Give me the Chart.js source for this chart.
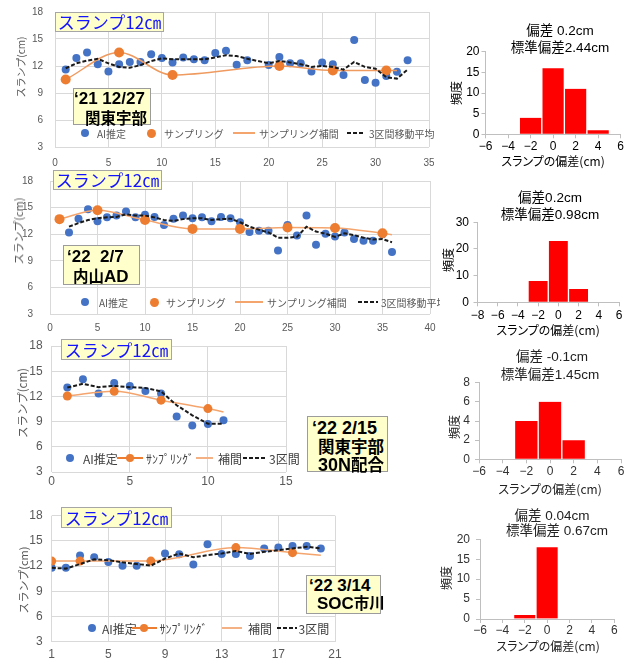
<!DOCTYPE html>
<html lang="ja">
<head>
<meta charset="utf-8">
<script src="https://cdn.jsdelivr.net/npm/chart.js@4.4.1/dist/chart.umd.min.js"></script>
<style>
  body { margin:0; width:633px; height:664px; background:#fff; position:relative; overflow:hidden;
         font-family:"Liberation Sans","Noto Sans CJK JP",sans-serif; }
  .panel { position:absolute; overflow:hidden; }
  .panel canvas, .hp canvas { position:absolute; left:0; top:0; }
  .hp { position:absolute; }
  .ctr { position:absolute; white-space:nowrap; transform:translate(-50%,-50%); }
  .rot { position:absolute; white-space:nowrap; transform:translate(-50%,-50%) rotate(-90deg); }
  .tag { position:absolute; box-sizing:border-box; width:109px; height:20px; background:#ffffcc;
         border:1px solid #a6a6a6; color:#1414ff; font-family:"Noto Sans CJK JP"; font-size:17px;
         line-height:18px; text-align:center; }
  .date { position:absolute; box-sizing:border-box; background:#ffffcc; border:1px solid #9c9c9c;
          font-weight:bold; color:#000; font-size:17px; }
  .date div { position:absolute; white-space:nowrap; transform:translateY(-50%); }
  .date .cj { font-family:"Noto Sans CJK JP"; font-size:15.5px; }
  .lg { position:absolute; white-space:nowrap; transform:translateY(-50%); color:#595959;
        font-family:"Noto Sans CJK JP"; }
  .dot { position:absolute; border-radius:50%; }
  .ln { position:absolute; height:2px; }
  .dash { position:absolute; height:2px;
          background:repeating-linear-gradient(90deg,#1a1a1a 0 4px,transparent 4px 6px); }
  .ytl { color:#595959; font-family:"Noto Sans CJK JP"; }
  .ht { font-size:13.5px; color:#000; }
  .hx { font-size:12px; color:#000; font-family:"Noto Sans CJK JP"; font-feature-settings:"palt"; }
</style>
</head>
<body>

<!-- 2021/12/27 関東宇部 -->
<div class="panel" style="left:0;top:0;width:434px;height:172px">
  <canvas id="c1"></canvas>
  <div class="rot ytl" style="left:20px;top:67px;font-size:10px">スランプ(cm)</div>
  <div class="tag" style="left:55px;top:12px">スランプ12㎝</div>
  <div class="date" style="left:73px;top:88px;width:78px;height:37px">
    <div style="left:0px;top:10px">‘21 12/27</div>
    <div class="cj" style="left:11px;top:28px">関東宇部</div>
  </div>
  <span class="dot" style="left:81px;top:129px;width:8px;height:8px;background:#4472c4"></span>
  <span class="lg" style="left:97px;top:133px;font-size:10px">AI推定</span>
  <span class="dot" style="left:146.5px;top:128.5px;width:9px;height:9px;background:#ed7d31"></span>
  <span class="lg" style="left:164px;top:133px;font-size:10px">サンプリング</span>
  <span class="ln" style="left:233px;top:132px;width:22px;background:#f4a56e"></span>
  <span class="lg" style="left:259px;top:133px;font-size:10px">サンプリング補間</span>
  <span class="dash" style="left:347px;top:132px;width:17px"></span>
  <span class="lg" style="left:369px;top:133px;font-size:10px">3区間移動平均</span>
</div>

<!-- 2022/2/7 内山AD -->
<div class="panel" style="left:0;top:165px;width:440px;height:170px">
  <canvas id="c2"></canvas>
  <div class="rot ytl" style="left:18px;top:66px;font-size:11px">スランプ(cm)</div>
  <div class="tag" style="left:53px;top:5px">スランプ12㎝</div>
  <div class="date" style="left:63px;top:80px;width:77px;height:40px">
    <div style="left:3px;top:11px">‘22&nbsp;&nbsp;2/7</div>
    <div style="left:9px;top:29px"><span class="cj">内山</span>AD</div>
  </div>
  <span class="dot" style="left:81px;top:133px;width:8px;height:8px;background:#4472c4"></span>
  <span class="lg" style="left:99px;top:137px;font-size:10px">AI推定</span>
  <span class="dot" style="left:149.5px;top:132.5px;width:9px;height:9px;background:#ed7d31"></span>
  <span class="lg" style="left:166px;top:137px;font-size:10px">サンプリング</span>
  <span class="ln" style="left:235px;top:136px;width:28px;background:#f4a56e"></span>
  <span class="lg" style="left:267px;top:137px;font-size:10px">サンプリング補間</span>
  <span class="dash" style="left:358px;top:136px;width:20px"></span>
  <span class="lg" style="left:381px;top:137px;font-size:10px">3区間移動平均</span>
</div>

<!-- 2022/2/15 関東宇部 30N配合 -->
<div class="panel" style="left:0;top:335px;width:400px;height:155px">
  <canvas id="c3"></canvas>
  <div class="rot ytl" style="left:21.7px;top:68px;font-size:11.5px">スランプ(cm)</div>
  <div class="tag" style="left:61px;top:4px;width:111px;height:21px;line-height:19px">スランプ12㎝</div>
  <div class="date" style="left:307px;top:81px;width:81px;height:56px;font-size:18px">
    <div style="left:4px;top:10.7px">‘22 2/15</div>
    <div class="cj" style="left:10px;top:29px;font-size:16.5px">関東宇部</div>
    <div style="left:10px;top:47.3px">30N<span class="cj" style="font-size:16.5px">配合</span></div>
  </div>
  <span class="dot" style="left:66px;top:119px;width:8px;height:8px;background:#4472c4"></span>
  <span class="lg" style="left:83px;top:123px;font-size:12px;color:#404040">AI推定</span>
  <span class="ln" style="left:117px;top:122px;width:26px;background:#ed7d31"></span>
  <span class="dot" style="left:126px;top:119px;width:8px;height:8px;background:#ed7d31"></span>
  <span class="lg" style="left:146px;top:123px;font-size:12px;color:#404040">ｻﾝﾌﾟﾘﾝｸﾞ</span>
  <span class="ln" style="left:196px;top:122px;width:17px;background:#f4b183"></span>
  <span class="lg" style="left:218px;top:123px;font-size:12px;color:#404040">補間</span>
  <span class="dash" style="left:243px;top:122px;width:24px"></span>
  <span class="lg" style="left:269px;top:123px;font-size:12px;color:#404040">3区間</span>
</div>

<!-- 2022/3/14 SOC市川 -->
<div class="panel" style="left:0;top:500px;width:400px;height:164px">
  <canvas id="c4"></canvas>
  <div class="rot ytl" style="left:23.3px;top:80px;font-size:11px">スランプ(cm)</div>
  <div class="tag" style="left:61px;top:7px;width:111px;height:21px;line-height:19px">スランプ12㎝</div>
  <div class="date" style="left:306px;top:75px;width:75px;height:39px;font-size:17px">
    <div style="left:2px;top:10px">‘22 3/14</div>
    <div style="left:10px;top:26px">SOC<span class="cj">市川</span></div>
  </div>
  <span class="dot" style="left:88px;top:124px;width:8px;height:8px;background:#4472c4"></span>
  <span class="lg" style="left:102px;top:128px;font-size:12px;color:#404040">AI推定</span>
  <span class="ln" style="left:132px;top:127px;width:25px;background:#ed7d31"></span>
  <span class="dot" style="left:140px;top:124px;width:8px;height:8px;background:#ed7d31"></span>
  <span class="lg" style="left:159.5px;top:128px;font-size:12px;color:#404040">ｻﾝﾌﾟﾘﾝｸﾞ</span>
  <span class="ln" style="left:222px;top:127px;width:20px;background:#f4b183"></span>
  <span class="lg" style="left:248px;top:128px;font-size:12px;color:#404040">補間</span>
  <span class="dash" style="left:277px;top:127px;width:20px"></span>
  <span class="lg" style="left:298.5px;top:128px;font-size:12px;color:#404040">3区間</span>
</div>

<!-- histograms of the slump deviation -->
<div class="hp" style="left:430px;top:0;width:203px;height:165px"><canvas id="h1"></canvas></div>
<div class="hp" style="left:430px;top:165px;width:203px;height:170px"><canvas id="h2"></canvas></div>
<div class="hp" style="left:430px;top:335px;width:203px;height:165px"><canvas id="h3"></canvas></div>
<div class="hp" style="left:430px;top:500px;width:203px;height:164px"><canvas id="h4"></canvas></div>

<div class="ctr ht" style="left:560px;top:29.3px">偏差 0.2cm</div>
<div class="ctr ht" style="left:560px;top:45.7px">標準偏差2.44cm</div>
<div class="ctr hx" style="left:553px;top:160px">スランプの偏差(cm)</div>
<div class="rot hx" style="left:455px;top:93px">頻度</div>

<div class="ctr ht" style="left:550px;top:195.7px">偏差0.2cm</div>
<div class="ctr ht" style="left:550px;top:213.3px">標準偏差0.98cm</div>
<div class="ctr hx" style="left:548px;top:329.3px">スランプの偏差(cm)</div>
<div class="rot hx" style="left:447px;top:260px">頻度</div>

<div class="ctr ht" style="left:552px;top:355px;color:#222">偏差 -0.1cm</div>
<div class="ctr ht" style="left:550px;top:373.3px;color:#222">標準偏差1.45cm</div>
<div class="ctr hx" style="left:550px;top:487.7px;color:#222">スランプの偏差(cm)</div>
<div class="rot hx" style="left:453px;top:426.7px;color:#222">頻度</div>

<div class="ctr ht" style="left:552px;top:514px;color:#222">偏差 0.04cm</div>
<div class="ctr ht" style="left:557px;top:529.3px;color:#222">標準偏差 0.67cm</div>
<div class="ctr hx" style="left:548px;top:645px;color:#222">スランプの偏差(cm)</div>
<div class="rot hx" style="left:445px;top:578px;color:#222">頻度</div>

<script>
// ---- 2021/12/27 関東宇部 ----
const c1AiX   = [1,2,3,4,5,6,7,8,9,10,11,12,13,14,15,16,17,18,20,21,22,23,24,25,26,27,28,29,30,31,32,33];
const c1Ai    = [11.6,12.9,13.5,12.2,11.4,12.2,12.45,12.45,13.3,12.9,12.4,12.95,12.75,12.65,13.45,13.7,12.15,12.65,12.1,13.0,12.3,12.3,11.4,12.4,12.2,11.0,14.9,10.45,10.15,10.9,11.35,12.65];
const c1SampX = [1,6,11,21,26,31];
const c1Samp  = [10.5,13.5,11.0,12.0,11.5,11.5];
const c1IntX  = [1,6,11,21,26,31,32];
const c1Int   = [10.5,13.5,11.0,12.0,11.5,11.5,11.5];
const c1Ma    = [11.75,12.3,12.6,12.8,12.3,11.9,11.8,12.1,12.55,12.85,12.75,12.75,12.75,12.75,12.95,13.2,13.1,12.8,12.3,12.55,12.4,12.2,11.9,12.0,11.9,11.6,12.45,11.9,11.7,10.75,10.6,11.6];

// ---- 2022/2/7 内山AD ----
const c2AiX   = [1,2,3,4,5,6,7,8,9,10,11,12,13,14,15,16,17,18,19,20,21,22,23,24,25,26,27,28,29,30,31,32,33,34,35,36];
const c2Ai    = [13.7,12.2,13.75,14.8,13.45,13.9,14.1,14.55,13.9,14.2,13.95,13.05,13.75,14.1,13.8,13.9,13.45,13.95,13.8,13.35,12.25,12.4,12.4,10.15,13.05,11.85,14.1,10.8,12.05,11.75,12.2,11.45,11.25,11.25,12.0,10.0];
const c2SampX = [1,5,10,15,20,25,30,35];
const c2Samp  = [13.7,14.7,13.6,12.6,12.6,12.75,12.7,12.1];
const c2IntX  = [1,5,10,15,20,25,30,35,36];
const c2Int   = [13.7,14.7,13.6,12.6,12.6,12.75,12.7,12.1,11.95];
const c2MaX   = [2,3,4,5,6,7,8,9,10,11,12,13,14,15,16,17,18,19,20,21,22,23,24,25,26,27,28,29,30,31,32,33,34,35,36];
const c2Ma    = [12.85,13.25,13.6,13.8,13.9,13.95,14.25,14.1,14.1,13.9,13.6,13.5,13.7,13.8,13.8,13.6,13.7,13.75,13.35,12.85,12.5,12.2,11.6,11.6,11.7,12.85,12.3,12.05,11.7,12.1,11.9,11.6,11.4,11.45,11.1];

// ---- 2022/2/15 関東宇部 30N配合 ----
const c3AiX   = [1,2,3,4,5,6,7,8,9,10,11];
const c3Ai    = [13.05,14.05,12.35,13.6,13.25,12.65,12.35,9.6,8.55,8.7,9.15];
const c3SampX = [1,4,7,10];
const c3Samp  = [12.05,12.6,11.55,10.55];
const c3IntX  = [1,4,7,10,11];
const c3Int   = [12.05,12.6,11.55,10.55,10.15];
const c3Ma    = [13.05,13.5,13.1,13.25,13.1,13.0,12.6,10.95,9.75,8.75,8.75];

// ---- 2022/3/14 SOC市川 ----
const c4AiX   = [1,2,3,4,5,6,7,9,10,11,12,13,14,15,16,17,18,19,20];
const c4Ai    = [11.8,11.8,13.25,13.05,12.5,12.05,12.05,13.5,13.4,12.2,14.6,13.45,13.45,13.2,14.1,14.2,14.4,14.4,14.1];
const c4SampX = [1,3,8,14,18];
const c4Samp  = [12.6,12.6,12.6,14.2,13.6];
const c4IntX  = [1,3,8,14,18,20];
const c4Int   = [12.6,12.6,12.6,14.2,13.6,13.3];
const c4MaX   = [1,2,3,4,5,6,7,8,9,10,11,12,13,14,15,16,17,18,19,20];
const c4Ma    = [11.8,11.7,12.25,12.8,12.7,12.45,12.25,12.05,12.9,13.5,13.05,13.3,13.5,13.8,13.45,13.7,13.9,14.1,14.3,14.1];

// ---- deviation histograms (bin centre, count) ----
const h1Bins = [-2,0,2,4];  const h1Counts = [4,16,11,1];
const h2Bins = [-2,0,2];    const h2Counts = [8,23,5];
const h3Bins = [-2,0,2];    const h3Counts = [4,6,2];
const h4Bins = [-2,0];      const h4Counts = [1,18];

const pts = (xs, ys) => xs.map((x, i) => ({ x, y: ys[i] }));
const LATIN = '"Liberation Sans", "Noto Sans CJK JP", sans-serif';

// Pin the plot rectangle (page coords) inside a panel by fixing axis sizes.
function frame(panel, plot) {
  return {
    padding: { left: 0, top: plot.t - panel.y, right: panel.x + panel.w - plot.r, bottom: 0 },
    yW: plot.l - panel.x,
    xH: panel.y + panel.h - plot.b
  };
}

function slumpChart(id, panel, plot, o) {
  const f = frame(panel, plot);
  const cv = document.getElementById(id);
  cv.width = panel.w; cv.height = panel.h;
  const tickFont = { family: LATIN, size: o.fs };
  return new Chart(cv, {
    type: 'scatter',
    data: { datasets: [
      { label: '3区間移動平均', data: pts(o.maX, o.ma), showLine: true, borderColor: '#1a1a1a',
        borderWidth: 2, borderDash: [4, 2], pointRadius: 0, tension: 0, order: 0 },
      { label: 'サンプリング', data: pts(o.sampX, o.samp), pointRadius: o.sr,
        backgroundColor: '#ed7d31', borderColor: '#ed7d31', borderWidth: 0, order: 1 },
      { label: 'サンプリング補間', data: pts(o.intX, o.int), showLine: true, borderColor: o.ic,
        borderWidth: 1.5, pointRadius: 0, cubicInterpolationMode: 'monotone', order: 2 },
      { label: 'AI推定', data: pts(o.aiX, o.ai), pointRadius: o.ar,
        backgroundColor: '#4472c4', borderColor: '#4472c4', borderWidth: 0, order: 3 }
    ]},
    options: {
      responsive: false, animation: false, events: [],
      layout: { padding: f.padding },
      plugins: { legend: { display: false }, tooltip: { enabled: false } },
      scales: {
        x: { type: 'linear', min: o.xmin, max: o.xmax,
             ticks: { stepSize: o.xstep, font: tickFont, color: '#595959', padding: o.xp, maxRotation: 0, autoSkip: false },
             grid: { color: '#d9d9d9', drawTicks: false }, border: { display: false },
             afterFit(s) { s.height = f.xH; s.paddingLeft = 0; s.paddingRight = 0; } },
        y: { type: 'linear', min: 3, max: 18,
             ticks: { stepSize: 3, font: tickFont, color: '#595959', padding: o.yp },
             grid: { color: '#d9d9d9', drawTicks: false }, border: { display: false },
             afterFit(s) { s.width = f.yW; s.paddingTop = 0; s.paddingBottom = 0; } }
      }
    }
  });
}

function histChart(id, panel, plot, o) {
  const f = frame(panel, plot);
  const cv = document.getElementById(id);
  cv.width = panel.w; cv.height = panel.h;
  const tickFont = { family: LATIN, size: 12 };
  const minus = v => (v < 0 ? '\u2212' + Math.abs(v) : String(v));
  return new Chart(cv, {
    type: 'bar',
    data: { datasets: [{ data: pts(o.bins, o.counts), backgroundColor: '#ff0000',
      borderColor: '#ffffff', borderWidth: { left: 1, right: 1, top: 0, bottom: 0 },
      borderSkipped: false, barPercentage: 1, categoryPercentage: 1 }] },
    options: {
      responsive: false, animation: false, events: [],
      layout: { padding: f.padding },
      plugins: { legend: { display: false }, tooltip: { enabled: false } },
      scales: {
        x: { type: 'linear', offset: false, min: o.xmin, max: 6,
             ticks: { stepSize: 2, font: tickFont, color: o.tc, padding: o.xp, maxRotation: 0, autoSkip: false, callback: minus },
             grid: { display: true, offset: false, drawOnChartArea: false, drawTicks: true, tickLength: 4, color: '#bfbfbf' },
             border: { display: true, color: '#bfbfbf' },
             afterFit(s) { s.height = f.xH; s.paddingLeft = 0; s.paddingRight = 0; } },
        y: { type: 'linear', min: 0, max: o.ymax,
             ticks: { stepSize: o.ystep, font: tickFont, color: o.tc, padding: o.yp },
             grid: { display: true, drawOnChartArea: false, drawTicks: true, tickLength: 4, color: '#bfbfbf' },
             border: { display: true, color: '#bfbfbf' },
             afterFit(s) { s.width = f.yW; s.paddingTop = 0; s.paddingBottom = 0; } }
      }
    }
  });
}

slumpChart('c1', { x: 0, y: 0, w: 434, h: 172 }, { l: 55, t: 12, r: 432, b: 147 },
  { aiX: c1AiX, ai: c1Ai, sampX: c1SampX, samp: c1Samp, intX: c1IntX, int: c1Int, maX: c1AiX, ma: c1Ma,
    xmin: 0, xmax: 35, xstep: 5, fs: 10, xp: 10, yp: 12, ar: 4, sr: 5, ic: '#ef9a5f' });
slumpChart('c2', { x: 0, y: 165, w: 440, h: 170 }, { l: 50, t: 181, r: 430, b: 314 },
  { aiX: c2AiX, ai: c2Ai, sampX: c2SampX, samp: c2Samp, intX: c2IntX, int: c2Int, maX: c2MaX, ma: c2Ma,
    xmin: 0, xmax: 40, xstep: 5, fs: 10, xp: 8, yp: 17, ar: 4, sr: 5, ic: '#f4a56e' });
slumpChart('c3', { x: 0, y: 335, w: 400, h: 155 }, { l: 51.7, t: 346, r: 286, b: 472 },
  { aiX: c3AiX, ai: c3Ai, sampX: c3SampX, samp: c3Samp, intX: c3IntX, int: c3Int, maX: c3AiX, ma: c3Ma,
    xmin: 0, xmax: 15, xstep: 5, fs: 12, xp: 2.5, yp: 9, ar: 4, sr: 4.5, ic: '#f4a56e' });
slumpChart('c4', { x: 0, y: 500, w: 400, h: 164 }, { l: 51.7, t: 515.7, r: 335, b: 641.7 },
  { aiX: c4AiX, ai: c4Ai, sampX: c4SampX, samp: c4Samp, intX: c4IntX, int: c4Int, maX: c4MaX, ma: c4Ma,
    xmin: 1, xmax: 21, xstep: 4, fs: 12, xp: 6, yp: 9, ar: 4, sr: 4.5, ic: '#f4a56e' });

histChart('h1', { x: 430, y: 0, w: 203, h: 165 }, { l: 485.5, t: 51.7, r: 620.7, b: 134.3 },
  { bins: h1Bins, counts: h1Counts, xmin: -6, ymax: 20, ystep: 5, xp: 1, yp: 2, tc: '#000' });
histChart('h2', { x: 430, y: 165, w: 203, h: 170 }, { l: 477.5, t: 222.3, r: 619, b: 302.3 },
  { bins: h2Bins, counts: h2Counts, xmin: -8, ymax: 30, ystep: 10, xp: 2, yp: 4.5, tc: '#000' });
histChart('h3', { x: 430, y: 335, w: 203, h: 165 }, { l: 479, t: 382.7, r: 621, b: 459.3 },
  { bins: h3Bins, counts: h3Counts, xmin: -6, ymax: 8, ystep: 2, xp: 1, yp: 5, tc: '#333' });
histChart('h4', { x: 430, y: 500, w: 203, h: 164 }, { l: 480, t: 539.3, r: 614.3, b: 619 },
  { bins: h4Bins, counts: h4Counts, xmin: -6, ymax: 20, ystep: 5, xp: 0, yp: 6, tc: '#333' });
</script>
</body>
</html>
